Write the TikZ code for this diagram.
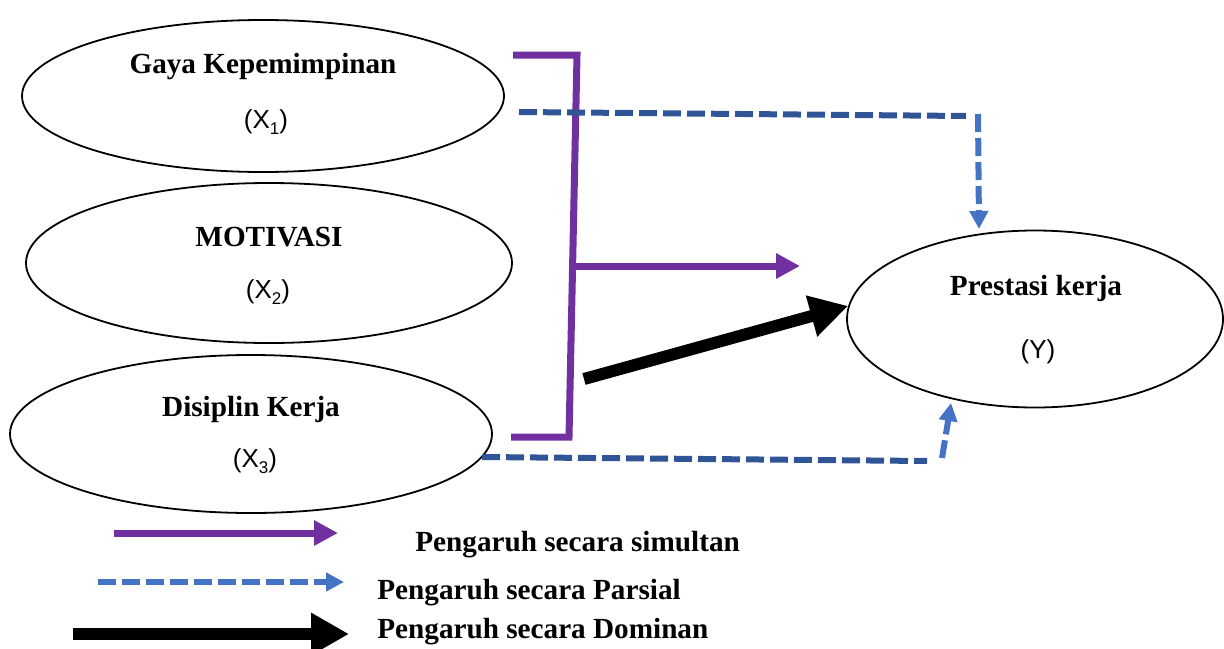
\documentclass[tikz,border=0pt]{standalone}
\usepackage{fontspec}
\setmainfont{Liberation Serif}
\newfontfamily\arialf{Liberation Sans}
\usetikzlibrary{shapes.geometric,arrows.meta}
\definecolor{purp}{HTML}{7030A0}
\definecolor{dblue}{HTML}{2F5597}
\definecolor{lblue}{HTML}{4472C4}
\newcommand{\lowsub}[1]{\raisebox{-0.45ex}{\fontsize{8.5}{9}\selectfont #1}}
\begin{document}
\begin{tikzpicture}[x=0.5pt,y=-0.5pt,
  ell/.style={draw=black,line width=0.9pt,ellipse,inner sep=0pt},
  ttl/.style={font=\fontsize{14.6}{17}\selectfont\bfseries,anchor=base,inner sep=0pt},
  var/.style={font=\arialf\fontsize{13}{15}\selectfont,anchor=base,inner sep=0pt},
  leg/.style={font=\fontsize{14.6}{17}\selectfont\bfseries,anchor=base west,inner sep=0pt},
  simul/.style={draw=purp,line width=3.5pt},
  simularr/.style={simul,-{Triangle[length=12pt,width=12pt]}},
  parsial/.style={line width=3pt,dash pattern=on 9pt off 3pt},
  parsialarr/.style={parsial,draw=lblue,-{Triangle[length=9pt,width=9pt]}},
  dominan/.style={draw=black,line width=6pt,-{Triangle[length=19pt,width=20pt]}}]
\useasboundingbox (0,0) rectangle (1224,648);

% ellipses
\node[ell,minimum width=241pt,minimum height=76pt] (e1) at (263,96) {};
\node[ell,minimum width=243pt,minimum height=80pt] (e2) at (269,263) {};
\node[ell,minimum width=241pt,minimum height=79pt] (e3) at (251,434) {};
\node[ell,minimum width=188pt,minimum height=88.5pt] (ey) at (1035,319) {};

% labels
\node[ttl] (t1) at (263,73) {Gaya Kepemimpinan};
\node[var] (v1) at (266,128) {(X\lowsub{1})};
\node[ttl] (t2) at (269,246) {MOTIVASI};
\node[var] (v2) at (268,298) {(X\lowsub{2})};
\node[ttl] (t3) at (251,416) {Disiplin Kerja};
\node[var] (v3) at (255,467) {(X\lowsub{3})};
\node[ttl] (ty) at (1036,295) {Prestasi kerja};
\node[var] (vy) at (1038,358) {(Y)};

% purple bracket
\coordinate (b1) at (513,55);
\coordinate (b2) at (577,55);
\coordinate (b3) at (569,437);
\coordinate (b4) at (511,437);
\coordinate (bm) at (573,266);
\coordinate (bt) at (800,266);
\draw[simul,line join=miter] (b1) -- (b2) -- (b3) -- (b4);
\draw[simularr] (bm) -- (bt);

% dominant arrow
\coordinate (d1) at (584,379);
\draw[dominan] (d1) -- (ey.176);

% partial arrows
\coordinate (p1) at (519,112);
\coordinate (p2) at (966,116);
\coordinate (p3) at (978,114);
\coordinate (p4) at (979,229);
\draw[parsial,draw=dblue] (p1) -- (p2);
\draw[parsialarr] (p3) -- (p4);
\coordinate (q1) at (482,457);
\coordinate (q2) at (927,461);
\coordinate (q3) at (942,458);
\coordinate (q4) at (951,403);
\draw[parsial,draw=dblue] (q1) -- (q2);
\draw[parsialarr] (q3) -- (q4);

% legend
\coordinate (l1a) at (114,533);
\coordinate (l1b) at (338,533);
\coordinate (l2a) at (98,582);
\coordinate (l2b) at (344,582);
\coordinate (l3a) at (73,634);
\coordinate (l3b) at (349,634);
\draw[simularr] (l1a) -- (l1b);
\draw[parsialarr] (l2a) -- (l2b);
\draw[dominan] (l3a) -- (l3b);
\node[leg] (g1) at (415,551) {Pengaruh secara simultan};
\node[leg] (g2) at (377,599) {Pengaruh secara Parsial};
\node[leg] (g3) at (377,638) {Pengaruh secara Dominan};
\end{tikzpicture}
\end{document}
